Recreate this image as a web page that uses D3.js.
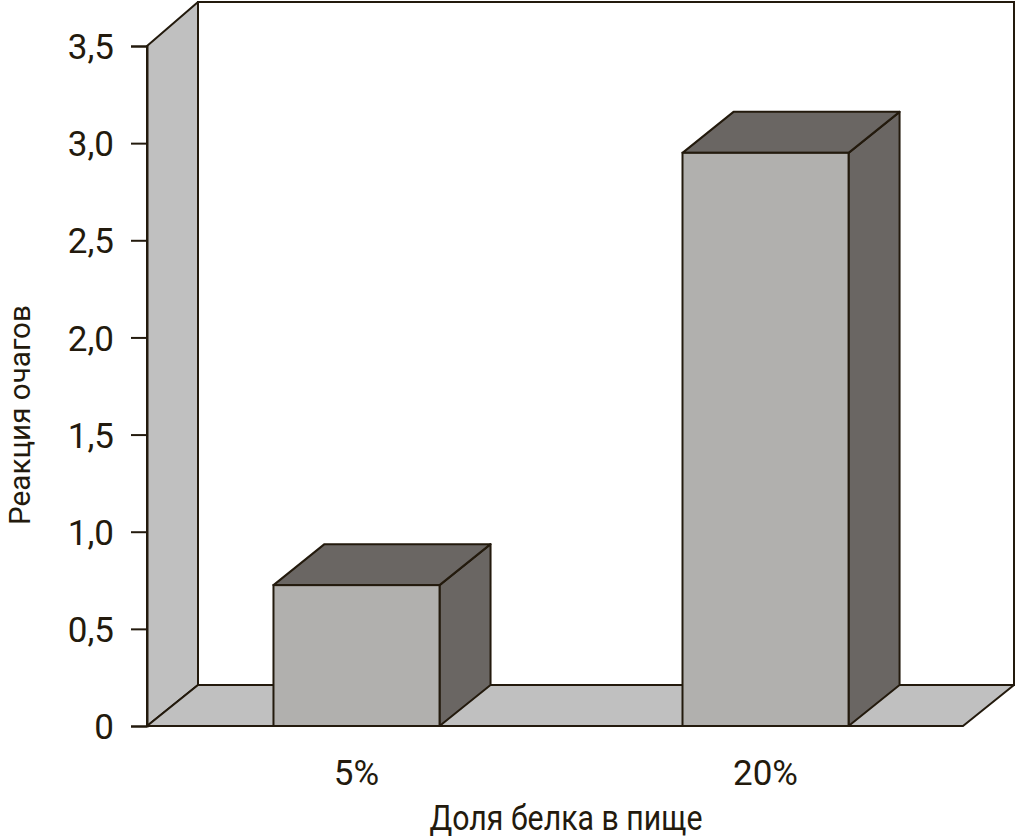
<!DOCTYPE html>
<html>
<head>
<meta charset="utf-8">
<script src="https://cdn.jsdelivr.net/npm/d3@7"></script>
<style>
  html, body { margin: 0; padding: 0; background: #fff; }
  svg { display: block; }
  text { font-family: Roboto, "Liberation Sans", Arial, sans-serif; fill: #231a0d; }
</style>
</head>
<body>
<svg id="chart" width="1016" height="840"></svg>
<script>
const categories = ["5%", "20%"];
const values = [0.725, 2.95];
const yTicks = [0, 0.5, 1.0, 1.5, 2.0, 2.5, 3.0, 3.5];
const yTickLabels = ["0", "0,5", "1,0", "1,5", "2,0", "2,5", "3,0", "3,5"];
const xTitle = "Доля белка в пище";
const yTitle = "Реакция очагов";

const svg = d3.select("#chart");
const ink = "#231a0d";
const sw = 2;
const dx = 51, dy = 41;
const left = 147, right = 963, base = 726, topY = 46;

const y = d3.scaleLinear().domain([0, 3.5]).range([base, topY]);
const x = d3.scaleBand().domain(categories).range([left, right])
  .paddingInner(0.594).paddingOuter(0.2945).align(0.525);

// back wall
svg.append("rect")
  .attr("x", left + dx).attr("y", 2)
  .attr("width", right - left).attr("height", base - dy - 2)
  .attr("fill", "#fff").attr("stroke", ink).attr("stroke-width", sw);

// left wall
svg.append("polygon")
  .attr("points", [[left, y(0)], [left, y(3.5)], [left + dx, 2], [left + dx, y(0) - dy]].map(p => p.join(",")).join(" "))
  .attr("fill", "#c0c0c0").attr("stroke", ink).attr("stroke-width", sw).attr("stroke-linejoin", "round");

// floor
svg.append("polygon")
  .attr("points", [[left, y(0)], [left + dx, y(0) - dy], [right + dx, y(0) - dy], [right, y(0)]].map(p => p.join(",")).join(" "))
  .attr("fill", "#c0c0c0").attr("stroke", ink).attr("stroke-width", sw).attr("stroke-linejoin", "round");

// bars
const bars = svg.append("g").selectAll("g").data(categories.map((c, i) => ({ c, v: values[i] }))).join("g");
bars.each(function(d) {
  const g = d3.select(this);
  const x0 = x(d.c), x1 = x(d.c) + x.bandwidth();
  const yt = y(d.v), yb = y(0);
  const pts = a => a.map(p => p.join(",")).join(" ");
  g.append("polygon")
    .attr("points", pts([[x1, yt], [x1 + dx, yt - dy], [x1 + dx, yb - dy], [x1, yb]]))
    .attr("fill", "#6a6663").attr("stroke", ink).attr("stroke-width", sw).attr("stroke-linejoin", "round");
  g.append("polygon")
    .attr("points", pts([[x0, yt], [x0 + dx, yt - dy], [x1 + dx, yt - dy], [x1, yt]]))
    .attr("fill", "#6a6663").attr("stroke", ink).attr("stroke-width", sw).attr("stroke-linejoin", "round");
  g.append("rect")
    .attr("x", x0).attr("y", yt).attr("width", x1 - x0).attr("height", yb - yt)
    .attr("fill", "#b1b0ae").attr("stroke", ink).attr("stroke-width", sw);
});

// y axis
const yAxis = d3.axisLeft(y).tickValues(yTicks)
  .tickFormat((d, i) => yTickLabels[i]).tickSize(16).tickPadding(17);
const ga = svg.append("g").attr("transform", `translate(${left},0)`).call(yAxis);
ga.select(".domain").attr("stroke", ink).attr("stroke-width", sw);
ga.selectAll(".tick line").attr("stroke", ink).attr("stroke-width", sw);
ga.selectAll(".tick text").attr("fill", ink).style("font-size", "35px")
  .style("font-family", "Roboto, 'Liberation Sans', Arial, sans-serif").attr("dy", "0.36em");

// x labels
svg.append("g").selectAll("text").data(categories).join("text")
  .attr("x", d => x(d) + x.bandwidth() / 2)
  .attr("y", 785)
  .attr("text-anchor", "middle")
  .style("font-size", "35px")
  .text(d => d);

// titles
svg.append("text")
  .attr("x", 566).attr("y", 830)
  .attr("text-anchor", "middle").style("font-size", "35px")
  .attr("textLength", 273).attr("lengthAdjust", "spacingAndGlyphs")
  .text(xTitle);

svg.append("text")
  .attr("transform", "translate(30,415) rotate(-90)")
  .attr("text-anchor", "middle").style("font-size", "30px")
  .attr("textLength", 220).attr("lengthAdjust", "spacingAndGlyphs")
  .text(yTitle);
</script>
</body>
</html>
